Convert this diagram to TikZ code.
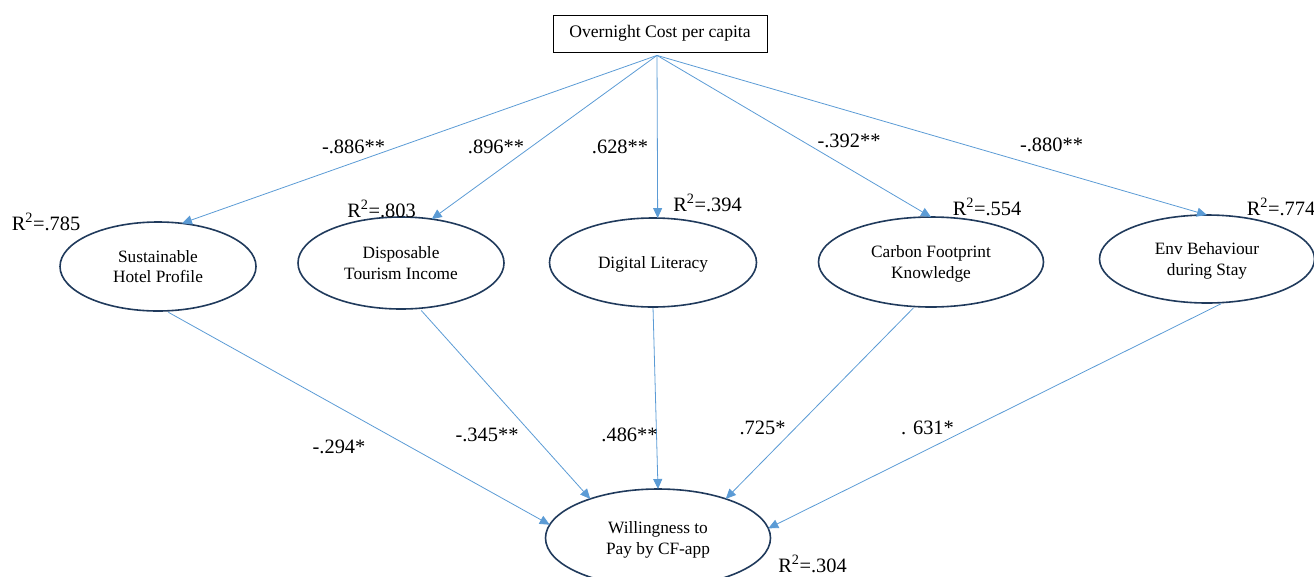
\documentclass[tikz,border=0pt]{standalone}
\usepackage{fontspec}
\setmainfont{Liberation Serif}
\usepackage{tikz}
\usetikzlibrary{shapes.geometric,arrows.meta}
\definecolor{navy}{HTML}{203A5C}
\definecolor{lblue}{HTML}{5B9BD5}
\tikzset{
  lat/.style={ellipse,draw=navy,line width=1.6pt,align=center,inner sep=0pt,
    outer sep=0pt,text depth=0pt,font=\fontsize{17.3}{20.5}\selectfont},
  obs/.style={rectangle,draw=black,line width=0.8pt,minimum width=214pt,
    minimum height=37pt,inner sep=0pt,font=\fontsize{17.6}{21}\selectfont},
  fl/.style={-{Triangle[length=10pt,width=9pt]},draw=lblue,line width=0.8pt},
  coef/.style={inner sep=0pt,font=\fontsize{20.4}{24}\selectfont},
}

\begin{document}
\begin{tikzpicture}[x=1pt,y=-1pt]
  \useasboundingbox (0,0) rectangle (1314,576);
  \node[obs] (cost) at (660,33.5) {Overnight Cost per capita};
  \coordinate (hub) at ([xshift=-3pt,yshift=-3pt]cost.south);
  \node[lat,minimum width=196pt,minimum height=89pt] (shp) at (158,266.5) {Sustainable\\Hotel Profile};
  \node[lat,minimum width=206pt,minimum height=92pt] (dti) at (401,263) {Disposable\\Tourism Income};
  \node[lat,minimum width=207pt,minimum height=89pt] (dl) at (653,262.5) {Digital Literacy};
  \node[lat,minimum width=225pt,minimum height=90pt] (cfk) at (931,262) {Carbon Footprint\\Knowledge};
  \node[lat,minimum width=215pt,minimum height=88pt] (env) at (1207,259) {Env Behaviour\\during Stay};
  \node[lat,minimum width=225pt,minimum height=98pt] (wtp) at (658,538) {Willingness to\\Pay by CF-app};

  \draw[fl] (hub) -- (shp.61);
  \draw[fl] (hub) -- (dti.55);
  \draw[fl] (hub) -- (dl.84);
  \draw[fl] (hub) -- (cfk.90);
  \draw[fl] (hub) -- (env.90);
  \draw[fl,shorten <=3pt] (shp.-80) -- (wtp.173);
  \draw[fl,shorten <=3pt] (dti.-68) -- (wtp.150);
  \draw[fl,shorten <=1pt] (dl.-90) -- (wtp.90);
  \draw[fl,shorten <=2pt] (cfk.-110) -- (wtp.30);
  \draw[fl,shorten <=3pt] (env.-69) -- (wtp.5);

  \node[coef] (c1) at (353.5,147) {-.886**};
  \node[coef] (c2) at (496,147) {.896**};
  \node[coef] (c3) at (620,147) {.628**};
  \node[coef] (c4) at (849,141) {-.392**};
  \node[coef] (c5) at (1051.5,145) {-.880**};
  \node[coef] (d1) at (339,447) {-.294*};
  \node[coef] (d2) at (487,435) {-.345**};
  \node[coef] (d3) at (629.5,435) {.486**};
  \node[coef] (d4) at (762.5,428) {.725*};
  \node[coef] (d5) at (927.5,428) {. 631*};
  \node[coef] (r1) at (46,222) {R\textsuperscript{2}=.785};
  \node[coef] (r2) at (381.5,209) {R\textsuperscript{2}=.803};
  \node[coef] (r3) at (707.5,203) {R\textsuperscript{2}=.394};
  \node[coef] (r4) at (987,207) {R\textsuperscript{2}=.554};
  \node[coef] (r5) at (1281,207) {R\textsuperscript{2}=.774};
  \node[coef] (r6) at (812.5,564) {R\textsuperscript{2}=.304};
\end{tikzpicture}
\end{document}
